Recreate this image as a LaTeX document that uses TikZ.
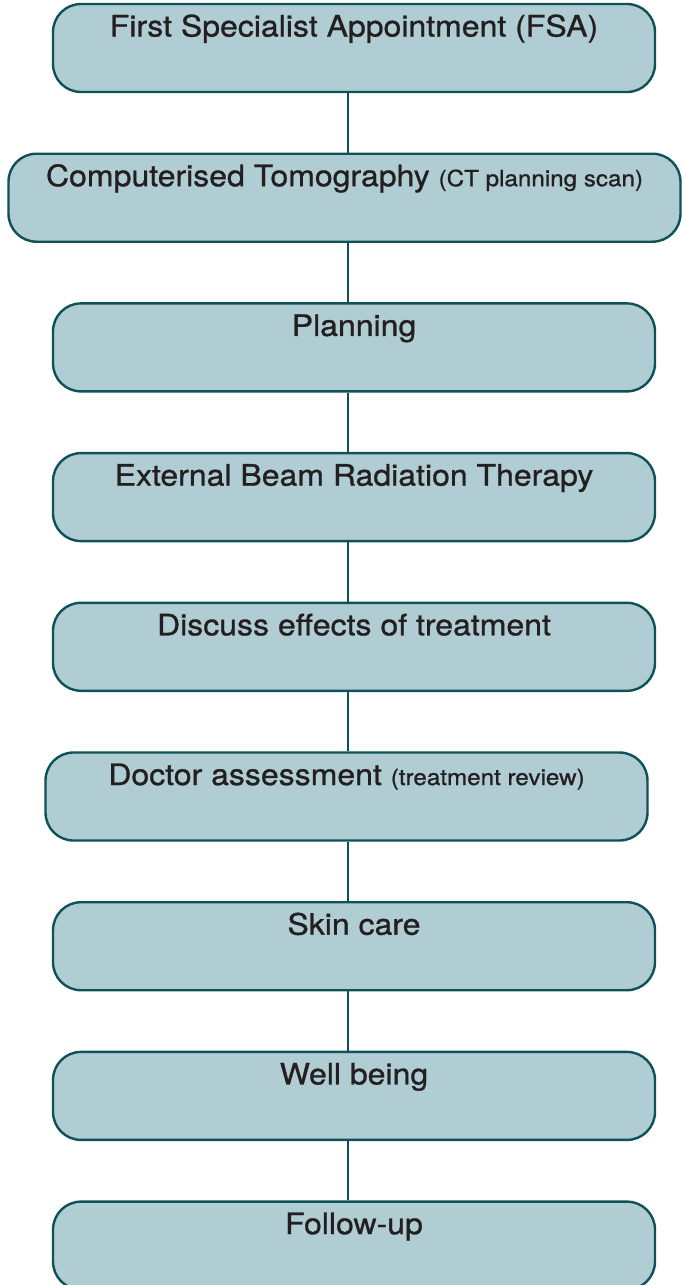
\documentclass[tikz,border=0pt]{standalone}
\usepackage{fontspec}
\setmainfont{TeX Gyre Heros}[FakeStretch=1.085, FakeBold=0.9]
\usepackage{tikz}
\usetikzlibrary{positioning}
\definecolor{boxfill}{RGB}{176,205,211}
\definecolor{boxline}{RGB}{14,82,88}
\definecolor{boxtext}{RGB}{35,31,32}
\newcommand{\smalltxt}[1]{{\fontsize{22.3}{26}\selectfont #1}}

\begin{document}
\begin{tikzpicture}[
    x=1pt, y=1pt,
    node distance=149.7pt,
    stage/.style={draw=boxline, fill=boxfill, line width=2.4pt, rounded corners=28pt,
        minimum width=602pt, minimum height=88pt, inner xsep=0pt, inner ysep=4pt,
        text height=28.5pt, text depth=51.5pt, text=boxtext, font=\fontsize{29.5}{34}\selectfont},
    link/.style={draw=boxline, line width=2pt}
]
    \useasboundingbox (0,0) rectangle (682,-1285);
    \coordinate (spine) at (348,0);

    % Nodes
    \node[stage] (fsa) at (354,-48) {First Specialist Appointment (FSA)};
    \node[stage, below of=fsa, xshift=-9.5pt, minimum width=672pt] (ct) {Computerised Tomography \smalltxt{(CT planning scan)}};
    \node[stage, below of=ct, xshift=9.5pt] (plan) {Planning};
    \node[stage, below of=plan] (ebrt) {External Beam Radiation Therapy};
    \node[stage, below of=ebrt] (effects) {Discuss effects of treatment};
    \node[stage, below of=effects, xshift=-7.5pt] (doctor) {Doctor assessment \smalltxt{(treatment review)}};
    \node[stage, below of=doctor, xshift=7.5pt] (skin) {Skin care};
    \node[stage, below of=skin] (well) {Well being};
    \node[stage, below of=well] (follow) {Follow-up};

    % Connectors
    \draw[link] (fsa.south -| spine) -- (ct.north -| spine);
    \draw[link] (ct.south -| spine) -- (plan.north -| spine);
    \draw[link] (plan.south -| spine) -- (ebrt.north -| spine);
    \draw[link] (ebrt.south -| spine) -- (effects.north -| spine);
    \draw[link] (effects.south -| spine) -- (doctor.north -| spine);
    \draw[link] (doctor.south -| spine) -- (skin.north -| spine);
    \draw[link] (skin.south -| spine) -- (well.north -| spine);
    \draw[link] (well.south -| spine) -- (follow.north -| spine);
\end{tikzpicture}
\end{document}
